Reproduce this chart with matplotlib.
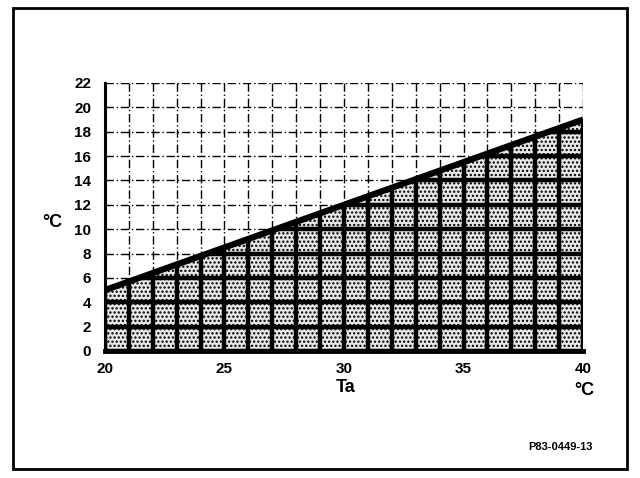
import matplotlib
matplotlib.use('Agg')
import matplotlib.pyplot as plt
from matplotlib.patches import Polygon, Rectangle

# chart data
ta = [20, 40]              # ambient temperature Ta (°C)
limit = [5, 19]            # boundary line (°C)
x_ticks = [20, 25, 30, 35, 40]
y_ticks = [0, 2, 4, 6, 8, 10, 12, 14, 16, 18, 20, 22]
x_grid = list(range(20, 41))
code_label = 'P83-0449-13'

plt.rcParams['font.family'] = ['Liberation Sans Narrow', 'Liberation Sans', 'DejaVu Sans']
plt.rcParams['font.weight'] = 'bold'
plt.rcParams['hatch.linewidth'] = 1.1

fig = plt.figure(figsize=(6.4, 4.78), dpi=100)
ax = fig.add_axes([0.164, 0.2657, 0.747, 0.5607])
ax.set_xlim(ta[0], ta[1])
ax.set_ylim(y_ticks[0], y_ticks[-1])

# thin dash-dot grid over the whole area
for x in x_grid:
    ax.plot([x, x], [y_ticks[0], y_ticks[-1]], color='black', lw=1.0,
            ls=(0, (6, 2, 1, 2)), zorder=1)
for y in y_ticks:
    ax.plot([ta[0], ta[1]], [y, y], color='black', lw=1.0,
            ls=(0, (6, 2, 1, 2)), zorder=1)

# stippled region under the boundary line
poly = Polygon([(ta[0], 0), (ta[0], limit[0]), (ta[1], limit[1]), (ta[1], 0)],
               closed=True, facecolor='#e8e8e8', edgecolor='black', lw=0,
               hatch='....', zorder=2)
ax.add_patch(poly)
clip = Polygon(poly.get_xy(), closed=True, transform=ax.transData, visible=False)
ax.add_patch(clip)

# heavy grid inside the region
for x in x_grid:
    l, = ax.plot([x, x], [y_ticks[0], y_ticks[-1]], color='black', lw=3.2, zorder=3)
    l.set_clip_path(clip)
for y in y_ticks:
    l, = ax.plot([ta[0], ta[1]], [y, y], color='black', lw=3.2, zorder=3)
    l.set_clip_path(clip)

ax.plot(ta, limit, color='black', lw=4.5, solid_capstyle='butt', zorder=4)

for s in ['top', 'right']:
    ax.spines[s].set_visible(False)
ax.spines['left'].set_linewidth(2.2)
ax.spines['bottom'].set_linewidth(3.5)
ax.spines['left'].set_zorder(5)
ax.spines['bottom'].set_zorder(5)

ax.set_xticks(x_ticks)
ax.set_yticks(y_ticks)
ax.tick_params(length=0, labelsize=11)
ax.tick_params(axis='y', pad=10)
ax.tick_params(axis='x', pad=8)
for lab in ax.get_xticklabels() + ax.get_yticklabels():
    lab.set_fontweight('bold')

fig.text(0.082, 0.535, '°C', fontsize=13, fontweight='bold', ha='center', va='center')
fig.text(0.54, 0.19, 'Ta', fontsize=13, fontweight='bold', ha='center', va='center')
fig.text(0.913, 0.183, '°C', fontsize=13, fontweight='bold', ha='center', va='center')
fig.text(0.875, 0.065, code_label, fontsize=8, fontweight='bold', ha='center', va='center')

fig.patches.append(Rectangle((0.021, 0.018), 0.958, 0.965, transform=fig.transFigure,
                             fill=False, edgecolor='black', lw=2))

fig.savefig('out.png', dpi=100)
